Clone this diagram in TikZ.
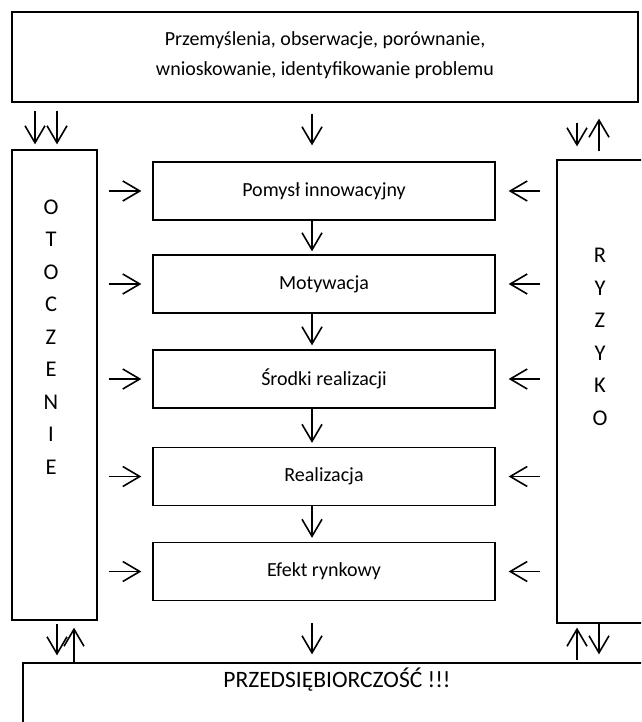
\documentclass[tikz,border=0pt]{standalone}
\usepackage{fontspec}
\setmainfont{Carlito}
\usetikzlibrary{arrows.meta}
\tikzset{
  box/.style={draw, line width=1.3pt, rectangle, inner sep=0pt},
  arr/.style={line width=1.6pt, -{Straight Barb[length=17pt,width=20pt]}},
  txt/.style={font=\fontsize{20}{30}\selectfont, inner sep=0pt, align=center},
  btxt/.style={font=\fontsize{23.5}{28}\selectfont, inner sep=0pt, align=center},
  vtxt/.style={font=\fontsize{22.5}{32.5}\selectfont, inner sep=0pt, align=center},
}
\begin{document}
\begin{tikzpicture}[x=1pt,y=-1pt]
\useasboundingbox (0,0) rectangle (641,722);
\clip (0,0) rectangle (641,722);
% big boxes
\node[box, minimum width=626pt, minimum height=90pt] (T) at (325,57) {};
\node[txt] (Ttxt) at (325,55) {Przemyślenia, obserwacje, porównanie,\\wnioskowanie, identyfikowanie problemu};
\node[box, minimum width=85pt, minimum height=470pt] (L) at (54.5,385) {};
\node[vtxt] (Ltxt) at (51,337) {O\\T\\O\\C\\Z\\E\\N\\I\\E};
\node[box, minimum width=86pt, minimum height=463pt] (R) at (600,391.5) {};
\node[vtxt] (Rtxt) at (600,337) {R\\Y\\Z\\Y\\K\\O};
\node[box, minimum width=660pt, minimum height=100pt] (B) at (353,713) {};
\node[btxt] (Btxt) at (337,680) {PRZEDSIĘBIORCZOŚĆ !!!};
% center column
\node[box, minimum width=342pt, minimum height=58pt, txt] (a) at (324,191) {Pomysł innowacyjny};
\node[box, minimum width=342pt, minimum height=58pt, txt] (b) at (324,284) {Motywacja};
\node[box, minimum width=342pt, minimum height=58pt, txt] (c) at (324,379) {Środki realizacji};
\node[box, minimum width=342pt, minimum height=58pt, txt] (d) at (324,476.5) {Realizacja};
\node[box, minimum width=342pt, minimum height=58pt, txt] (e) at (324,571.5) {Efekt rynkowy};
% reference x coordinates
\coordinate (xc) at (312,0);
\coordinate (xl1) at (35,0);
\coordinate (xl2) at (57,0);
\coordinate (xl3) at (74,0);
\coordinate (xr1) at (577,0);
\coordinate (xr2) at (599,0);
% down arrows in centre
\draw[arr, shorten <=11pt, shorten >=16pt] (T.south -| xc) -- (a.north -| xc);
\draw[arr, shorten >=3pt] (a.south -| xc) -- (b.north -| xc);
\draw[arr, shorten >=4pt] (b.south -| xc) -- (c.north -| xc);
\draw[arr, shorten >=4pt] (c.south -| xc) -- (d.north -| xc);
\draw[arr, shorten >=4pt] (d.south -| xc) -- (e.north -| xc);
\draw[arr, shorten <=22pt, shorten >=8pt] (e.south -| xc) -- (B.north -| xc);
% side arrows
\foreach \n in {a,b,c,d,e}{
  \draw[arr, shorten <=11pt, shorten >=11pt] (L.east |- \n) -- (\n.west);
  \draw[arr, shorten <=16pt, shorten >=13pt] (R.west |- \n) -- (\n.east);
}
% top corners
\draw[arr, shorten <=8pt, shorten >=5pt] (T.south -| xl1) -- (L.north -| xl1);
\draw[arr, shorten <=8pt, shorten >=5pt] (T.south -| xl2) -- (L.north -| xl2);
\draw[arr, shorten <=20pt, shorten >=13pt] (T.south -| xr1) -- (R.north -| xr1);
\draw[arr, shorten <=8pt, shorten >=16pt] (R.north -| xr2) -- (T.south -| xr2);
% bottom corners
\draw[arr, shorten <=3pt, shorten >=7pt] (L.south -| xl2) -- (B.north -| xl2);
\draw[arr, shorten >=7pt] (B.north -| xl3) -- (L.south -| xl3);
\draw[arr, shorten <=2pt, shorten >=4pt] (B.north -| xr1) -- (R.south -| xr1);
\draw[arr, shorten >=8pt] (R.south -| xr2) -- (B.north -| xr2);
\end{tikzpicture}
\end{document}
